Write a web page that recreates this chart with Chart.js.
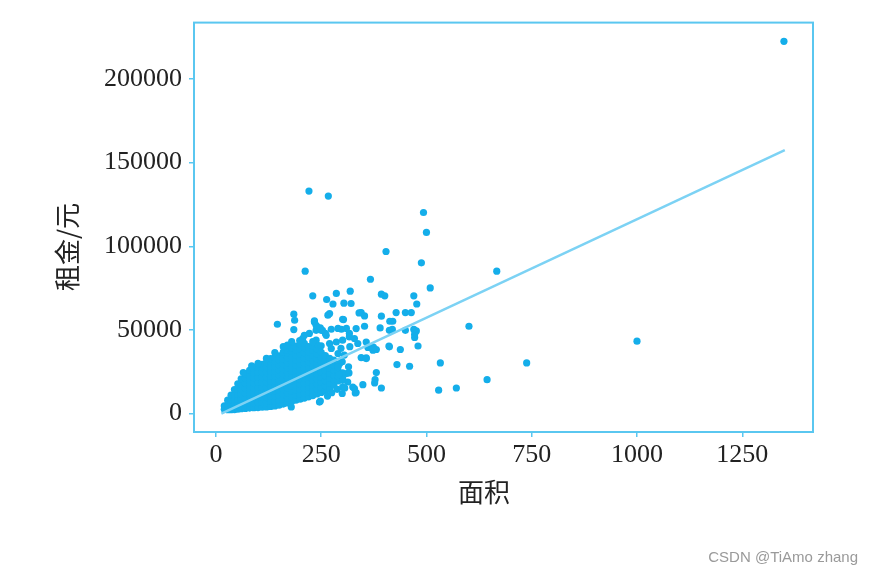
<!DOCTYPE html>
<html>
<head>
<meta charset="utf-8">
<script src="https://cdn.jsdelivr.net/npm/chart.js@4.4.1/dist/chart.umd.min.js"></script>
<style>
    body { margin: 0; background: #fff; }
    #wrap { position: relative; width: 874px; height: 578px; }
    #mark { position: absolute; right: 16px; top: 548px; font: 15px "Liberation Sans", sans-serif; color: #9a9a9a; }
</style>
</head>
<body>
<div id="wrap">
    <canvas id="chart"></canvas>
    <div id="mark">CSDN @TiAmo zhang</div>
</div>
<script>
/* ================= DATA ================= */
const xTitle = "面积";
const yTitle = "租金/元";
const xTicks = [0, 250, 500, 750, 1000, 1250];
const yTicks = [0, 50000, 100000, 150000, 200000];

// fitted regression line (area -> rent)
const fitArea = [13, 1351];
const fitRent = [0, 157500];

// dense cluster of listings, [area, rent]
const cluster = [
    [20, 2600], [20, 4600], [22, 3900],
    [28, 2300], [28, 5200], [28, 8000],
    [36, 2300], [36, 5200], [36, 8100], [36, 11000],
    [44, 2400], [44, 5400], [44, 8400], [44, 11400], [44, 14400],
    [52, 2600], [52, 5600], [52, 8600], [52, 11600], [52, 14600], [52, 17800],
    [60, 2900], [60, 5900], [60, 8900], [60, 11900], [60, 14900], [60, 17900], [60, 20800],
    [70, 3100], [70, 6100], [70, 9100], [70, 12100], [70, 15100], [70, 18100], [70, 21100], [70, 23500],
    [80, 3300], [80, 6300], [80, 9300], [80, 12300], [80, 15300], [80, 18300], [80, 21300], [80, 24300], [80, 25800],
    [90, 3500], [90, 6500], [90, 9500], [90, 12500], [90, 15500], [90, 18500], [90, 21500], [90, 24500], [90, 27000],
    [100, 3600], [100, 6600], [100, 9600], [100, 12600], [100, 15600], [100, 18600], [100, 21600], [100, 24600], [100, 27600],
    [110, 3800], [110, 6800], [110, 9800], [110, 12800], [110, 15800], [110, 18800], [110, 21800], [110, 24800], [110, 27800], [110, 29500],
    [120, 4000], [120, 7000], [120, 10000], [120, 13000], [120, 16000], [120, 19000], [120, 22000], [120, 25000], [120, 28000], [120, 30500],
    [130, 4300], [130, 7300], [130, 10300], [130, 13300], [130, 16300], [130, 19300], [130, 22300], [130, 25300], [130, 28300], [130, 31300], [130, 32800],
    [140, 4600], [140, 7600], [140, 10600], [140, 13600], [140, 16600], [140, 19600], [140, 22600], [140, 25600], [140, 28600], [140, 31600], [140, 33600],
    [150, 5000], [150, 8000], [150, 11000], [150, 14000], [150, 17000], [150, 20000], [150, 23000], [150, 26000], [150, 29000], [150, 32000], [150, 34500],
    [160, 5700], [160, 8700], [160, 11700], [160, 14700], [160, 17700], [160, 20700], [160, 23700], [160, 26700], [160, 29700], [160, 32700], [160, 35700], [160, 36800],
    [170, 6400], [170, 9400], [170, 12400], [170, 15400], [170, 18400], [170, 21400], [170, 24400], [170, 27400], [170, 30400], [170, 33400], [170, 36400], [170, 38000],
    [180, 7200], [180, 10200], [180, 13200], [180, 16200], [180, 19200], [180, 22200], [180, 25200], [180, 28200], [180, 31200], [180, 34200], [180, 37200], [180, 39200],
    [190, 8000], [190, 11000], [190, 14000], [190, 17000], [190, 20000], [190, 23000], [190, 26000], [190, 29000], [190, 32000], [190, 35000], [190, 38000], [190, 40300],
    [200, 8600], [200, 11600], [200, 14600], [200, 17600], [200, 20600], [200, 23600], [200, 26600], [200, 29600], [200, 32600], [200, 35600], [200, 38600], [200, 41500],
    [210, 9300], [210, 12300], [210, 15300], [210, 18300], [210, 21300], [210, 24300], [210, 27300], [210, 30300], [210, 33300], [210, 36300], [210, 39300], [210, 42000],
    [220, 10000], [220, 13000], [220, 16000], [220, 19000], [220, 22000], [220, 25000], [220, 28000], [220, 31000], [220, 34000], [220, 37000], [220, 40000],
    [230, 10800], [230, 13800], [230, 16800], [230, 19800], [230, 22800], [230, 25800], [230, 28800], [230, 31800], [230, 34800], [230, 37800], [230, 40500],
    [240, 11700], [240, 14700], [240, 17700], [240, 20700], [240, 23700], [240, 26700], [240, 29700], [240, 32700], [240, 35700], [240, 38700],
    [250, 12600], [250, 15600], [250, 18600], [250, 21600], [250, 24600], [250, 27600], [250, 30600], [250, 33600], [250, 36600],
    [260, 13600], [260, 16600], [260, 19600], [260, 22600], [260, 25600], [260, 28600], [260, 31600], [260, 34600],
    [270, 15000], [270, 18000], [270, 21000], [270, 24000], [270, 27000], [270, 30000], [270, 33000],
    [280, 17000], [280, 20000], [280, 23000], [280, 26000], [280, 29000], [280, 32000],
    [290, 19500], [290, 22500], [290, 25500], [290, 28500],
    // ragged edge of the cluster
    [199, 43700], [206, 44900], [222, 47900], [238, 43900], [262, 46800], [270, 41900], [286, 42800],
    [301, 43900], [317, 45800], [210, 46800], [242, 40800], [274, 38900], [290, 35900], [294, 29900],
    [310, 23900], [313, 18900], [301, 15900], [300, 31000], [305, 35000], [297, 39000], [318, 40000],
    [246, 6900], [179, 3950], [248, 7540], [265, 10500], [275, 12500], [288, 14500], [300, 12000],
    [315, 28000], [180, 43000], [160, 40000], [140, 36500], [120, 33000], [100, 30000], [85, 28500],
    [65, 24500], [170, 41000], [250, 40500], [230, 43000]
];

// sparse listings, [area, rent]
const outliers = [
    [1349, 222500], [221, 133000], [267, 130000], [493, 120200], [500, 108300], [404, 96900],
    [488, 90100], [212, 85100], [667, 85100], [367, 80300], [509, 75100], [1000, 43300],
    [601, 52200], [738, 30300], [533, 30300], [529, 14000], [571, 15300], [644, 20300],
    [230, 70400], [263, 68200], [286, 71800], [319, 73200], [393, 71400], [401, 70400],
    [470, 70400], [477, 65500], [278, 65500], [304, 66000], [321, 65800], [270, 59800],
    [345, 60400], [353, 58400], [393, 58200], [428, 60400], [450, 60400], [464, 60400],
    [303, 56200], [420, 55200], [353, 52200], [390, 51200], [412, 49800], [450, 49800],
    [476, 49400], [472, 47400], [480, 40400], [411, 40400], [438, 38300], [374, 39800],
    [381, 38300], [357, 33300], [430, 29300], [460, 28300], [381, 24500], [378, 20300],
    [377, 18300], [393, 15300], [349, 17300], [329, 15000], [333, 12600], [306, 15300],
    [301, 24300], [301, 19900], [316, 24300], [146, 53400], [185, 59400], [187, 55800],
    [185, 50200], [234, 55400], [240, 51800], [253, 49800], [260, 47900], [266, 58800],
    [301, 56400], [290, 50900], [310, 50900], [317, 47900], [250, 49800], [238, 49800],
    [234, 54800], [274, 50400], [298, 50400], [333, 50800], [248, 51200], [238, 52800],
    [340, 60200], [413, 55200], [419, 50300], [470, 50300], [472, 45500], [412, 39900],
    [361, 39500], [373, 37900], [345, 33500], [331, 12300], [325, 15900], [301, 20900],
    [292, 23300], [329, 44900], [337, 41900], [357, 42800], [357, 32900], [290, 27900]
];

/* ================= STYLE ================= */
const dotColor = "#14aeea";
const spineColor = "#5ac7f0";
const fitColor = "#7cd2f4";
const textColor = "#222";
const tickFont = { family: "'Liberation Serif', 'DejaVu Serif', serif", size: 26 };

/* frame and axis titles */
const frame = {
    id: "frame",
    afterDraw(chart) {
        const { ctx, chartArea: a } = chart;
        ctx.save();
        ctx.strokeStyle = spineColor;
        ctx.lineWidth = 2;
        ctx.strokeRect(a.left, a.top, a.right - a.left, a.bottom - a.top);

        ctx.fillStyle = textColor;
        ctx.font = "26px 'Noto Sans CJK SC'";
        ctx.textAlign = "center";
        ctx.textBaseline = "middle";
        ctx.fillText(xTitle, 484, 492);
        ctx.translate(67, 247);
        ctx.rotate(-Math.PI / 2);
        ctx.fillText(yTitle, 0, 0);
        ctx.restore();
    }
};

const toXY = pts => pts.map(p => ({ x: p[0], y: p[1] }));

new Chart(document.getElementById("chart"), {
    type: "scatter",
    data: {
        datasets: [
            {
                type: "line",
                data: fitArea.map((x, i) => ({ x: x, y: fitRent[i] })),
                borderColor: fitColor,
                borderWidth: 2.5,
                pointRadius: 0,
                order: 0
            },
            {
                data: toXY(cluster.concat(outliers)),
                backgroundColor: dotColor,
                borderWidth: 0,
                pointRadius: 3.6,
                order: 1
            }
        ]
    },
    options: {
        responsive: true,
        maintainAspectRatio: false,
        animation: false,
        events: [],
        layout: { padding: { left: 0, right: 61, top: 22, bottom: 0 } },
        plugins: { legend: { display: false }, tooltip: { enabled: false } },
        scales: {
            x: {
                type: "linear",
                min: -52,
                max: 1418,
                afterBuildTicks: s => { s.ticks = xTicks.map(v => ({ value: v })); },
                afterFit: s => { s.height = 146; },
                ticks: { font: tickFont, color: textColor, padding: 3, maxRotation: 0, callback: v => String(v) },
                grid: { drawOnChartArea: false, color: spineColor, tickLength: 5, lineWidth: 1.5 },
                border: { display: false }
            },
            y: {
                type: "linear",
                min: -11000,
                max: 233700,
                afterBuildTicks: s => { s.ticks = yTicks.map(v => ({ value: v })); },
                afterFit: s => { s.width = 194; },
                ticks: { font: tickFont, color: textColor, padding: 7, callback: v => String(v) },
                grid: { drawOnChartArea: false, color: spineColor, tickLength: 5, lineWidth: 1.5 },
                border: { display: false }
            }
        }
    },
    plugins: [frame]
});
</script>
</body>
</html>
